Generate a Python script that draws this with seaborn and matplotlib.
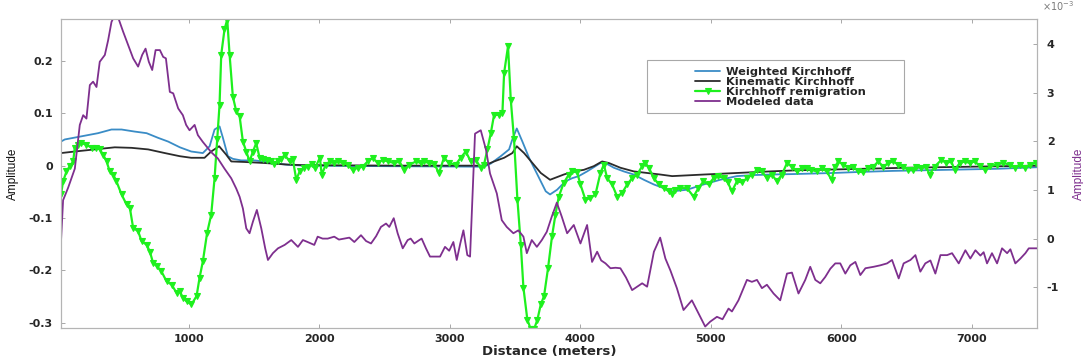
import numpy as np
import matplotlib
matplotlib.use("Agg")
import matplotlib.pyplot as plt
import seaborn as sns
from matplotlib.legend_handler import HandlerLine2D
from matplotlib.lines import Line2D
from matplotlib.patches import Rectangle

# ---------------- data ----------------
# Weighted Kirchhoff (left axis)
wk_dist = [20, 49, 177, 304, 407, 484, 586, 676, 765, 841, 931, 1018, 1107, 1159,
           1197, 1235, 1261, 1299, 1337, 1401, 1504, 1567, 1643, 1745, 1874, 2500,
           3262, 3314, 3390, 3454, 3479, 3513, 3556, 3607, 3659, 3697, 3735, 3768,
           3822, 3886, 3937, 3988, 4052, 4116, 4154, 4193, 4257, 4333, 4410, 4487,
           4564, 4640, 4704, 4817, 4944, 5072, 5200, 5328, 5456, 5647, 5939, 6143,
           6399, 6800, 7200, 7500]
wk_amp = [0.046, 0.050, 0.056, 0.062, 0.069, 0.069, 0.065, 0.062, 0.053, 0.046, 0.035,
          0.027, 0.024, 0.037, 0.069, 0.075, 0.053, 0.018, 0.013, 0.010, 0.010, 0.008,
          0.005, 0.002, 0.000, -0.001, -0.002, 0.004, 0.018, 0.031, 0.050, 0.071, 0.046,
          0.015, -0.011, -0.030, -0.049, -0.055, -0.046, -0.030, -0.024, -0.020, -0.011,
          -0.001, 0.005, 0.005, -0.004, -0.011, -0.017, -0.027, -0.036, -0.043, -0.049,
          -0.046, -0.036, -0.027, -0.020, -0.018, -0.017, -0.016, -0.014, -0.012,
          -0.010, -0.008, -0.006, -0.003]

# Kinematic Kirchhoff (left axis)
kk_dist = [20, 126, 279, 432, 560, 688, 816, 931, 1018, 1120, 1171, 1232, 1286, 1325,
           1427, 1580, 1758, 1874, 2600, 3262, 3339, 3416, 3479, 3513, 3569, 3633,
           3697, 3768, 3873, 3950, 4027, 4103, 4167, 4219, 4307, 4410, 4512, 4614,
           4704, 4944, 5200, 5456, 5647, 6000, 6500, 7000, 7500]
kk_amp = [0.024, 0.027, 0.031, 0.035, 0.034, 0.031, 0.024, 0.018, 0.015, 0.015, 0.027,
          0.037, 0.021, 0.008, 0.007, 0.005, 0.002, 0.001, 0.000, 0.000, 0.008, 0.015,
          0.024, 0.037, 0.024, 0.005, -0.014, -0.027, -0.017, -0.011, -0.008, -0.001,
          0.008, 0.005, -0.004, -0.011, -0.014, -0.017, -0.020, -0.017, -0.014,
          -0.011, -0.009, -0.007, -0.004, -0.002, 0.000]

# Kirchhoff remigration (left axis)
kr_dist = [20, 36, 62, 87, 113, 126, 151, 177, 215, 254, 292, 317, 343, 369, 394, 420,
           445, 484, 522, 548, 573, 611, 637, 676, 701, 726, 752, 790, 829, 867, 906,
           931, 954, 982, 1020, 1059, 1082, 1107, 1140, 1171, 1197, 1217, 1235, 1248,
           1273, 1294, 1312, 1337, 1363, 1389, 1414, 1440, 1465, 1491, 1516, 1542,
           1567, 1600, 1631, 1656, 1682, 1708, 1734, 1772, 1797, 1823, 1849, 1880,
           1910, 1940, 1966, 2004, 2018, 2050, 2080, 2110, 2140, 2179, 2217, 2255,
           2294, 2332, 2370, 2409, 2447, 2485, 2524, 2575, 2613, 2651, 2690, 2741,
           2779, 2802, 2840, 2879, 2917, 2955, 2994, 3045, 3083, 3122, 3160, 3199,
           3237, 3262, 3288, 3314, 3339, 3377, 3403, 3416, 3446, 3467, 3492, 3518,
           3544, 3564, 3594, 3620, 3646, 3671, 3697, 3722, 3753, 3783, 3809, 3835,
           3873, 3912, 3937, 3976, 4001, 4039, 4077, 4116, 4154, 4180, 4206, 4244,
           4282, 4321, 4359, 4397, 4436, 4474, 4499, 4525, 4564, 4602, 4640, 4679,
           4704, 4727, 4766, 4817, 4868, 4905, 4944, 4983, 5021, 5059, 5098, 5130,
           5162, 5200, 5238, 5277, 5315, 5354, 5392, 5430, 5468, 5507, 5545, 5584,
           5622, 5660, 5700, 5735, 5770, 5811, 5850, 5888, 5926, 5952, 5977, 6015,
           6054, 6092, 6131, 6169, 6207, 6245, 6283, 6322, 6360, 6399, 6437, 6475,
           6514, 6552, 6575, 6613, 6651, 6677, 6715, 6767, 6805, 6843, 6869, 6908,
           6947, 6985, 7024, 7062, 7103, 7141, 7190, 7241, 7292, 7330, 7369, 7407,
           7445, 7490]
kr_amp = [-0.055, -0.030, -0.011, -0.001, 0.008, 0.034, 0.040, 0.043, 0.040, 0.034,
          0.034, 0.031, 0.021, 0.008, -0.011, -0.017, -0.030, -0.055, -0.074, -0.081,
          -0.119, -0.125, -0.144, -0.151, -0.164, -0.186, -0.191, -0.202, -0.221,
          -0.227, -0.243, -0.240, -0.252, -0.259, -0.265, -0.249, -0.214, -0.183,
          -0.128, -0.094, -0.024, 0.050, 0.116, 0.212, 0.260, 0.279, 0.212, 0.132,
          0.104, 0.094, 0.046, 0.027, 0.008, 0.027, 0.043, 0.015, 0.012, 0.010, 0.008,
          0.004, 0.008, 0.012, 0.021, 0.008, 0.012, -0.027, -0.011, -0.004, -0.002,
          0.004, -0.005, 0.015, -0.017, 0.002, 0.008, 0.005, 0.008, 0.005, 0.002,
          -0.008, -0.004, -0.002, 0.008, 0.015, 0.005, 0.011, 0.008, 0.005, 0.008,
          -0.008, 0.002, 0.008, 0.005, 0.008, 0.005, 0.004, -0.014, 0.015, 0.005,
          0.002, 0.015, 0.027, 0.008, 0.011, -0.004, 0.002, 0.031, 0.062, 0.097,
          0.097, 0.101, 0.177, 0.228, 0.126, 0.050, -0.065, -0.151, -0.233, -0.294,
          -0.312, -0.312, -0.294, -0.265, -0.249, -0.195, -0.135, -0.094, -0.059,
          -0.033, -0.017, -0.011, -0.013, -0.036, -0.065, -0.062, -0.055, -0.014,
          0.002, -0.024, -0.036, -0.059, -0.052, -0.036, -0.024, -0.017, -0.001,
          0.005, -0.004, -0.024, -0.036, -0.043, -0.049, -0.055, -0.046, -0.043,
          -0.043, -0.059, -0.043, -0.030, -0.036, -0.024, -0.020, -0.024, -0.032,
          -0.049, -0.030, -0.032, -0.024, -0.017, -0.008, -0.011, -0.024, -0.017,
          -0.030, -0.017, 0.005, -0.002, -0.011, -0.005, -0.004, -0.008, -0.011,
          -0.005, -0.011, -0.027, -0.002, 0.008, 0.002, -0.004, -0.002, -0.011,
          -0.013, -0.004, -0.002, 0.008, -0.002, 0.005, 0.008, 0.002, -0.002,
          -0.008, -0.008, -0.002, -0.004, -0.002, -0.017, -0.002, 0.011, 0.005,
          0.008, -0.008, 0.005, 0.008, 0.005, 0.008, -0.001, -0.008, -0.001, 0.002,
          0.005, 0.002, -0.004, 0.002, -0.004, 0.002, 0.005]

# Modeled data (right axis, units of 1e-3)
md_dist = [20, 36, 75, 126, 164, 190, 215, 241, 266, 292, 317, 356, 381, 407, 432,
           458, 496, 535, 573, 611, 642, 668, 693, 719, 745, 778, 803, 824, 854, 880,
           918, 954, 979, 1005, 1044, 1069, 1107, 1171, 1222, 1273, 1325, 1363, 1389,
           1414, 1440, 1465, 1491, 1521, 1555, 1585, 1606, 1644, 1683, 1734, 1785,
           1836, 1874, 1910, 1961, 1987, 2025, 2064, 2114, 2150, 2191, 2230, 2268,
           2319, 2358, 2396, 2435, 2472, 2511, 2536, 2570, 2600, 2639, 2677, 2700,
           2728, 2766, 2784, 2817, 2848, 2890, 2925, 2963, 2995, 3027, 3053, 3080,
           3104, 3134, 3155, 3193, 3237, 3278, 3308, 3360, 3398, 3436, 3487, 3525,
           3564, 3590, 3628, 3667, 3705, 3743, 3781, 3820, 3858, 3899, 3950, 4001,
           4052, 4090, 4129, 4160, 4193, 4231, 4270, 4307, 4350, 4397, 4436, 4474,
           4512, 4564, 4612, 4652, 4691, 4740, 4791, 4855, 4919, 4957, 4995, 5047,
           5090, 5136, 5162, 5212, 5277, 5315, 5354, 5392, 5430, 5481, 5532, 5584,
           5622, 5672, 5724, 5762, 5801, 5839, 5877, 5916, 5954, 5992, 6031, 6069,
           6108, 6146, 6185, 6248, 6299, 6351, 6389, 6440, 6478, 6530, 6568, 6606,
           6644, 6683, 6721, 6760, 6811, 6849, 6900, 6951, 6989, 7028, 7066, 7091,
           7117, 7155, 7194, 7232, 7271, 7296, 7334, 7373, 7411, 7437, 7500]
md_amp_e3 = [-0.05, 0.79, 1.05, 1.44, 2.34, 2.54, 2.47, 3.16, 3.23, 3.12, 3.64, 3.78,
             4.08, 4.46, 4.60, 4.55, 4.26, 3.98, 3.71, 3.54, 3.78, 3.91, 3.64, 3.47,
             3.88, 3.88, 3.74, 3.71, 3.02, 2.99, 2.68, 2.54, 2.34, 2.23, 2.34, 2.13,
             1.99, 1.78, 1.65, 1.44, 1.24, 1.03, 0.86, 0.62, 0.21, 0.11, 0.35, 0.59,
             0.21, -0.20, -0.44, -0.30, -0.20, -0.13, -0.03, -0.17, -0.03, -0.07,
             -0.13, 0.04, 0.00, 0.00, 0.04, -0.02, 0.00, 0.02, -0.07, 0.07, -0.05,
             -0.10, 0.05, 0.24, 0.31, 0.24, 0.42, 0.11, -0.20, -0.03, 0.00, -0.10,
             -0.03, 0.00, -0.20, -0.37, -0.37, -0.37, -0.17, -0.25, -0.07, -0.44,
             -0.10, 0.17, -0.34, -0.37, 2.16, 2.23, 1.82, 1.34, 0.93, 0.38, 0.24,
             0.11, 0.17, 0.04, -0.30, -0.03, -0.17, -0.03, 0.14, 0.45, 0.74, 0.45,
             0.11, 0.28, -0.10, 0.28, -0.48, -0.27, -0.45, -0.51, -0.61, -0.60, -0.61,
             -0.80, -1.06, -0.99, -0.92, -0.99, -0.27, 0.02, -0.41, -0.66, -1.02,
             -1.47, -1.27, -1.61, -1.81, -1.71, -1.61, -1.66, -1.44, -1.50, -1.27,
             -0.85, -0.89, -0.85, -1.02, -0.95, -1.13, -1.27, -0.72, -0.70, -1.13,
             -0.85, -0.58, -0.85, -0.92, -0.79, -0.62, -0.51, -0.51, -0.72, -0.55,
             -0.48, -0.75, -0.61, -0.58, -0.55, -0.51, -0.44, -0.82, -0.51, -0.44,
             -0.34, -0.68, -0.51, -0.45, -0.72, -0.34, -0.34, -0.30, -0.51, -0.24,
             -0.41, -0.24, -0.35, -0.28, -0.51, -0.30, -0.51, -0.20, -0.30, -0.22,
             -0.51, -0.41, -0.30, -0.20, -0.20]

series_labels = ["Weighted Kirchhoff", "Kinematic Kirchhoff",
                 "Kirchhoff remigration", "Modeled data"]
x_ticks = [1000, 2000, 3000, 4000, 5000, 6000, 7000]
left_ticks = [-0.3, -0.2, -0.1, 0, 0.1, 0.2]
right_ticks = [-1, 0, 1, 2, 3, 4]

# ---------------- style ----------------
sns.set_theme(style="white")
plt.rcParams["font.family"] = ["DejaVu Sans"]
plt.rcParams["axes.unicode_minus"] = False

C_BLUE = "#3a8cc6"
C_BLACK = "#2b2b2b"
C_GREEN = "#1ef01e"
C_PURPLE = "#7e2f8e"
C_SPINE = "#b4b4b4"
C_TEXT = "#262626"

W, H = 1083, 363
fig = plt.figure(figsize=(W / 100, H / 100), dpi=100)
ax = fig.add_axes([61 / W, 1 - 328 / H, (1037 - 61) / W, (328 - 19) / H])
ax2 = ax.twinx()

sns.lineplot(x=wk_dist, y=wk_amp, ax=ax, color=C_BLUE, lw=1.3,
             estimator=None, sort=False, label=series_labels[0])
sns.lineplot(x=kk_dist, y=kk_amp, ax=ax, color=C_BLACK, lw=1.3,
             estimator=None, sort=False, label=series_labels[1])
sns.lineplot(x=kr_dist, y=kr_amp, ax=ax, color=C_GREEN, lw=1.6, marker="v",
             markersize=3.8, markeredgewidth=0.8, markeredgecolor=C_GREEN,
             estimator=None, sort=False, label=series_labels[2])
sns.lineplot(x=md_dist, y=md_amp_e3, ax=ax2, color=C_PURPLE, lw=1.3,
             estimator=None, sort=False, label=series_labels[3])

for a in (ax, ax2):
    if a.get_legend() is not None:
        a.get_legend().remove()

ax.set_xlim(20, 7500)
ax.set_ylim(-0.31, 0.28)
ax2.set_ylim(-1.84, 4.52)

bold = dict(fontweight="bold", fontsize=8, color=C_TEXT)
ax.set_xticks(x_ticks, [f"{t:g}" for t in x_ticks], **bold)
ax.set_yticks(left_ticks, [f"{t:g}" for t in left_ticks], **bold)
ax2.set_yticks(right_ticks, [f"{t:g}" for t in right_ticks], **bold)

ax.tick_params(axis="x", direction="in", length=3, width=0.6, color="#9a9a9a",
               top=True, bottom=True, pad=4)
ax.tick_params(axis="y", direction="in", length=3, width=0.6, color="#9a9a9a",
               left=True, right=False, pad=6)
ax2.tick_params(axis="y", direction="in", length=3, width=0.6, color="#9a9a9a",
                left=False, right=True, pad=7)

for a in (ax, ax2):
    for s in a.spines.values():
        s.set_color(C_SPINE)
        s.set_linewidth(0.8)

ax.set_xlabel("Distance (meters)", fontsize=9.5, fontweight="bold",
              color=C_TEXT, labelpad=1)
ax.set_ylabel("Amplitude", fontsize=8.5, color="#111111", labelpad=7,
              family=["Liberation Sans", "DejaVu Sans"])
ax2.set_ylabel("Amplitude", fontsize=8.5, color=C_PURPLE, labelpad=10,
               family=["Liberation Sans", "DejaVu Sans"])
ax2.text(1.005, 1.02, r"$\times10^{-3}$", transform=ax2.transAxes,
         fontsize=7, color="#7a7a7a", ha="left", va="bottom")


class RightLineHandler(HandlerLine2D):
    """Draws the legend sample only in the right part of the handle box."""

    def get_xdata(self, legend, xdescent, ydescent, width, height, fontsize):
        x1 = -xdescent + width
        x0 = x1 - 2.2 * fontsize
        return np.array([x0, x1]), np.array([0.5 * (x0 + x1)])


handles = ax.get_lines() + ax2.get_lines()
handles = [h for h in handles if h.get_label() in series_labels]
leg = fig.legend(handles, series_labels, loc="upper left",
                 bbox_to_anchor=(651 / W, 1 - 61 / H), bbox_transform=fig.transFigure,
                 frameon=False, numpoints=1, borderpad=0, handlelength=5.6,
                 handletextpad=0.45, labelspacing=0.0,
                 prop=dict(weight="bold", size=8.2),
                 handler_map={Line2D: RightLineHandler()})
for t in leg.get_texts():
    t.set_color(C_TEXT)

fig.add_artist(Rectangle((647 / W, 1 - 113 / H), 257 / W, 53 / H,
                         transform=fig.transFigure, facecolor="white",
                         edgecolor="#a8a8a8", lw=0.8, zorder=3))
leg.set_zorder(5)

fig.savefig("out.png", dpi=100)
